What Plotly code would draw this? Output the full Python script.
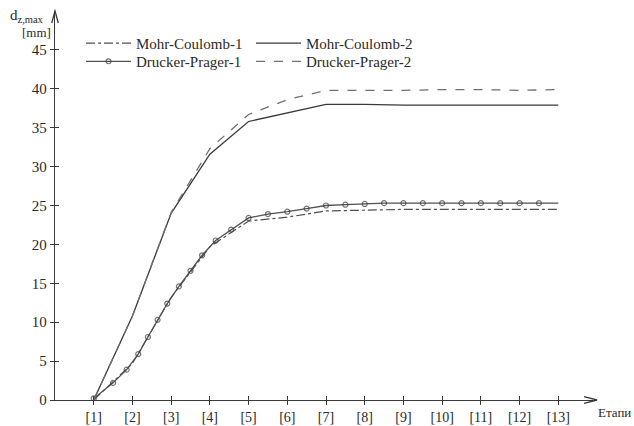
import plotly.graph_objects as go

stages = list(range(1, 14))
stage_labels = [f"[{s}]" for s in stages]

mc1_y = [0, 4.7, 13.2, 19.7, 23.0, 23.5, 24.3, 24.4, 24.5, 24.5, 24.5, 24.5, 24.5]
mc2_y = [0, 10.8, 24.0, 31.6, 35.8, 36.9, 38.0, 38.0, 37.9, 37.9, 37.9, 37.9, 37.9]
dp2_y = [0, 10.8, 24.1, 32.3, 36.7, 38.6, 39.8, 39.8, 39.8, 39.9, 39.9, 39.8, 39.9]

dp1_x = [1, 1.5, 1.85, 2.15, 2.4, 2.65, 2.9, 3.2, 3.5, 3.8, 4.15, 4.55, 5, 5.5, 6, 6.5,
         7, 7.5, 8, 8.5, 9, 9.5, 10, 10.5, 11, 11.5, 12, 12.5, 13]
dp1_y = [0.2, 2.2, 3.9, 5.9, 8.1, 10.3, 12.4, 14.6, 16.6, 18.6, 20.5, 21.9, 23.4, 23.9, 24.2, 24.6,
         25.0, 25.1, 25.2, 25.3, 25.3, 25.3, 25.3, 25.3, 25.3, 25.3, 25.3, 25.3, 25.3]

y_ticks = list(range(0, 50, 5))

FONT = "Liberation Serif"
TXT = "#2a2a2a"
AX = "#3a3a3a"

fig = go.Figure()
fig.add_trace(go.Scatter(x=stages, y=mc1_y, mode="lines", name="Mohr-Coulomb-1",
                         line=dict(color="#505050", width=1.2, dash="dashdot"), legend="legend"))
fig.add_trace(go.Scatter(x=stages, y=mc2_y, mode="lines", name="Mohr-Coulomb-2",
                         line=dict(color="#3a3a3a", width=1.3), legend="legend"))
msize = [5] * (len(dp1_x) - 1) + [0]
fig.add_trace(go.Scatter(x=dp1_x, y=dp1_y, mode="lines+markers", name="Drucker-Prager-1",
                         line=dict(color="#505050", width=1.3),
                         marker=dict(symbol="circle-open", size=msize, color="#3a3a3a",
                                     line=dict(width=1.2)), legend="legend2"))
fig.add_trace(go.Scatter(x=stages, y=dp2_y, mode="lines", name="Drucker-Prager-2",
                         line=dict(color="#707070", width=1.3, dash="dash"), legend="legend2"))

# invisible trace so overlay axes (for crossing ticks) render
fig.add_trace(go.Scatter(x=[1], y=[1], xaxis="x2", yaxis="y2", mode="markers",
                         marker=dict(opacity=0), showlegend=False, hoverinfo="skip"))

fig.update_layout(
    width=634, height=426,
    margin=dict(l=55, r=37, t=11, b=26, autoexpand=False),
    paper_bgcolor="white", plot_bgcolor="white",
    font=dict(family=FONT, size=15, color=TXT),
    xaxis=dict(range=[0, 14], tickmode="array", tickvals=stages, ticktext=stage_labels,
               ticks="outside", ticklen=4, tickcolor=AX, showgrid=False, zeroline=False,
               showline=True, linecolor=AX, linewidth=1.3, automargin=False,
               tickfont=dict(family=FONT, size=14, color=TXT)),
    yaxis=dict(range=[0, 50], tickmode="array", tickvals=y_ticks,
               ticks="outside", ticklen=4, tickcolor=AX, showgrid=False, zeroline=False,
               showline=True, linecolor=AX, linewidth=1.3, automargin=False,
               tickfont=dict(family=FONT, size=15, color=TXT)),
    xaxis2=dict(range=[0, 14], overlaying="x", anchor="y", side="bottom", tickmode="array",
                tickvals=stages, ticks="inside", ticklen=4, tickcolor=AX, automargin=False,
                showticklabels=False, showgrid=False, zeroline=False, showline=False),
    yaxis2=dict(range=[0, 50], overlaying="y", anchor="x", side="left", tickmode="array",
                tickvals=y_ticks, ticks="inside", ticklen=4, tickcolor=AX, automargin=False,
                showticklabels=False, showgrid=False, zeroline=False, showline=False),
    legend=dict(orientation="h", x=0.048, y=0.917, xanchor="left", yanchor="middle",
                entrywidth=110, entrywidthmode="pixels", itemwidth=45,
                bgcolor="rgba(0,0,0,0)", font=dict(family=FONT, size=15, color=TXT)),
    legend2=dict(orientation="h", x=0.048, y=0.87, xanchor="left", yanchor="middle",
                 entrywidth=110, entrywidthmode="pixels", itemwidth=45,
                 bgcolor="rgba(0,0,0,0)", font=dict(family=FONT, size=15, color=TXT)),
    showlegend=True,
)

# arrowheads at the ends of the axes (paper refs so they are not clipped)
fig.add_shape(type="path", xref="paper", yref="paper", xsizemode="pixel", ysizemode="pixel",
              xanchor=1, yanchor=0, path="M -13,3.3 L 0,0 L -13,-3.3",
              line=dict(color=AX, width=1.3))
fig.add_shape(type="path", xref="paper", yref="paper", xsizemode="pixel", ysizemode="pixel",
              xanchor=0, yanchor=1, path="M -3.3,-12 L 0,0 L 3.3,-12",
              line=dict(color=AX, width=1.3))

fig.add_annotation(xref="paper", yref="paper", x=-0.086, y=1.0, xanchor="left", yanchor="middle",
                   yshift=-5, text="d<sub>z,max</sub>", showarrow=False,
                   font=dict(family=FONT, size=15, color=TXT))
fig.add_annotation(xref="paper", yref="paper", x=-0.064, y=1.0, xanchor="left", yanchor="middle",
                   yshift=-21, text="[mm]", showarrow=False,
                   font=dict(family=FONT, size=13, color=TXT))
fig.add_annotation(xref="paper", yref="paper", x=1.0, y=0, xanchor="left", yanchor="top",
                   xshift=-1, yshift=-3, text="Етапи", showarrow=False,
                   font=dict(family=FONT, size=13, color=TXT))

fig.write_html("out.html", config={"displayModeBar": False},
               post_script="document.body.style.margin='0px';document.body.style.padding='0px';")
